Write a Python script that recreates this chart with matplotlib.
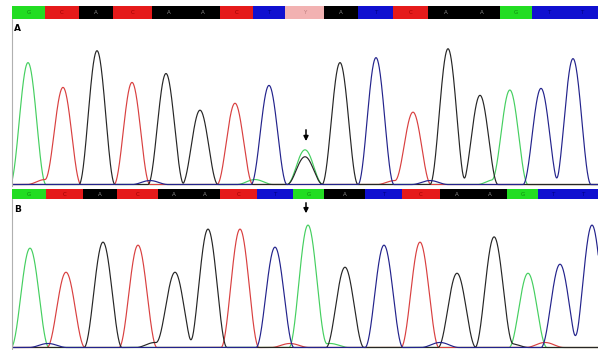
"""
Sanger chromatogram, two traces (A: heterozygous, B: reference) with base-call bars.
"""
import numpy as np
import matplotlib.pyplot as plt

# ── Data ─────────────────────────────────────────────────────────────────────
CHAN = {"G": "#45cf60", "C": "#d94040", "A": "#262626", "T": "#23238c"}
BAR  = {"G": "#22dd22", "C": "#e51a1a", "A": "#000000", "T": "#1010d0", "Y": "#f2b2b2"}
TXT  = {"G": "#118811", "C": "#990000", "A": "#888888", "T": "#000080", "Y": "#c08080"}

a_bases  = ["G","C","A","C","A","A","C","T","Y","A","T","C","A","A","G","T","T"]
a_pos    = [28, 63, 97, 132, 166, 200, 235, 269, 305, 340, 376, 413, 448, 480, 510, 541, 573]
a_height = [123, 98, 135, 103, 112, 75, 82, 100, 35, 123, 128, 73, 137, 90, 95, 97, 127]
a_edges  = [12, 45, 79, 113, 152, 186, 220, 253, 285, 324, 358, 393, 428, 464, 500, 532, 565, 598]

b_bases  = ["G","C","A","C","A","A","C","T","G","A","T","C","A","A","G","T","T"]
b_pos    = [30, 66, 103, 138, 175, 208, 240, 275, 308, 345, 384, 420, 457, 494, 528, 560, 592]
b_height = [99, 75, 105, 102, 75, 118, 118, 100, 122, 80, 102, 105, 74, 110, 74, 83, 122]
b_edges  = [12, 46, 83, 117, 158, 189, 220, 257, 293, 324, 365, 402, 440, 473, 507, 538, 568, 598]

# secondary (minor) signal under the heterozygous call and baseline noise
a_minor  = [("A", 305, 28), ("C", 45, 5), ("T", 150, 4), ("G", 255, 5), ("C", 395, 4), ("T", 430, 4), ("G", 495, 5)]
b_minor  = [("T", 48, 4), ("A", 155, 5), ("C", 290, 4), ("G", 330, 4), ("T", 440, 5), ("A", 510, 4), ("C", 545, 5)]

W, H = 598, 350


def fax(x0, y0, x1, y1):
    return fig.add_axes([x0 / W, 1 - y1 / H, (x1 - x0) / W, (y1 - y0) / H])


def peak(x, p, h, hw):
    # raised-cosine peak, zero beyond +-hw
    u = np.clip((x - p) / hw, -1, 1)
    return h * np.cos(np.pi * u / 2) ** 2


def draw_bar(ax, bases, edges):
    for i, b in enumerate(bases):
        ax.axvspan(edges[i], edges[i + 1], color=BAR[b], lw=0)
        ax.text((edges[i] + edges[i + 1]) / 2, 0.5, b, color=TXT[b],
                fontsize=4, ha="center", va="center")
    ax.set_xlim(edges[0], W)
    ax.set_ylim(0, 1)
    ax.axis("off")


def draw_trace(ax, bases, pos, height, minor, hw, top):
    x = np.linspace(10, W + 20, 2400)
    sig = {k: np.zeros_like(x) for k in "ATCG"}
    for b, p, h in zip(bases, pos, height):
        ch = "G" if b == "Y" else b
        sig[ch] += peak(x, p, h, hw)
    for ch, p, h in minor:
        sig[ch] += peak(x, p, h, hw)
    for ch in ["G", "C", "A", "T"]:
        ax.plot(x, sig[ch], color=CHAN[ch], lw=0.85)
    ax.set_xlim(12, W)
    ax.set_ylim(-1.5, top)
    for s in ["top", "right", "bottom"]:
        ax.spines[s].set_visible(False)
    ax.spines["left"].set_color("#b0b0b0")
    ax.spines["left"].set_linewidth(0.8)
    ax.set_xticks([]); ax.set_yticks([])


fig = plt.figure(figsize=(W / 100, H / 100), dpi=100)

bar_a = fax(12, 6, 598, 19)
draw_bar(bar_a, a_bases, a_edges)
ax_a = fax(12, 19, 598, 186)
draw_trace(ax_a, a_bases, a_pos, a_height, a_minor, 18, 167)
ax_a.text(14, 162, "A", fontsize=6.5, fontweight="bold", va="top")
ax_a.annotate("", xy=(306, 41), xytext=(306, 58),
              arrowprops=dict(arrowstyle="-|>", color="black", lw=1.1, mutation_scale=7))

bar_b = fax(12, 189, 598, 199)
draw_bar(bar_b, b_bases, b_edges)
ax_b = fax(12, 199, 598, 349)
draw_trace(ax_b, b_bases, b_pos, b_height, b_minor, 19, 148)
ax_b.text(14, 142, "B", fontsize=6.5, fontweight="bold", va="top")
ax_b.annotate("", xy=(306, 131), xytext=(306, 147),
              arrowprops=dict(arrowstyle="-|>", color="black", lw=1.1, mutation_scale=7),
              annotation_clip=False)

plt.savefig("out.png", dpi=100)
